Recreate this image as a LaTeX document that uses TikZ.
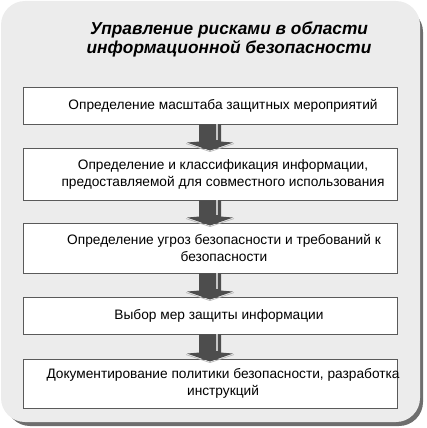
\documentclass[tikz,border=0pt]{standalone}
\usepackage{fontspec}
\setmainfont{Liberation Sans}
\usetikzlibrary{calc,positioning}
\definecolor{panelGray}{HTML}{ECECEC}
\definecolor{shadowGray}{HTML}{6E6E6E}
\definecolor{frameGray}{HTML}{5A5A5A}
\definecolor{arrowGray}{HTML}{4D4D4D}

\tikzset{
  stepbox/.style={draw=frameGray, line width=0.9pt, fill=white, minimum width=374pt, inner sep=0pt},
  steptext/.style={align=center, font=\fontsize{13.7}{17}\selectfont},
  headline/.style={align=center, font=\fontsize{17.3}{19}\selectfont\bfseries\itshape},
}
% block arrow from the bottom of one box into the top of the next
\newcommand\flowarrow[2]{%
  \path (#1.south) coordinate (fa-s) (#2.north) coordinate (fa-e);
  \fill[arrowGray] ($(fa-s)+(-11,0)$) -- ($(fa-s)+(11,0)$) -- ($(fa-e)+(11,-6)$)
    -- ($(fa-e)+(23,-5)$) -- ($(fa-e)+(0,3)$) -- ($(fa-e)+(-23,-5)$)
    -- ($(fa-e)+(-11,-6)$) -- cycle;
  \draw[gray!45, line width=1.2pt] ($(fa-s)+(7,0)$) -- ($(fa-e)+(7,-8)$);
  \draw[gray!55, line width=0.7pt] ($(fa-e)+(-24,-4)$) -- ($(fa-e)+(0,4)$) -- ($(fa-e)+(24,-4)$);
}

\begin{document}
\begin{tikzpicture}[x=1pt, y=-1pt]
  \useasboundingbox (0,0) rectangle (427,428);
  % panel with shadow
  \fill[shadowGray, rounded corners=24pt] (6,8) rectangle (423,426);
  \fill[panelGray, rounded corners=24pt] (1,1) rectangle (420,422);

  \node[headline] (title) at (229,39) {Управление рисками в области\\информационной безопасности};

  \node[stepbox, minimum height=37pt] (b1) at (210,105.5) {};
  \node[stepbox, minimum height=52pt] (b2) at (210,174) {};
  \node[stepbox, minimum height=50pt] (b3) at (210,248) {};
  \node[stepbox, minimum height=37pt] (b4) at (210,315.5) {};
  \node[stepbox, minimum height=49pt] (b5) at (210,383.5) {};

  \node[steptext] (t1) at ($(b1.center)+(13,0)$) {Определение масштаба защитных мероприятий};
  \node[steptext] (t2) at ($(b2.center)+(13,0)$) {Определение и классификация информации,\\предоставляемой для совместного использования};
  \node[steptext] (t3) at ($(b3.center)+(14,0)$) {Определение угроз безопасности и требований к\\безопасности};
  \node[steptext] (t4) at ($(b4.center)+(9,0)$) {Выбор мер защиты информации};
  \node[steptext] (t5) at ($(b5.center)+(13,0)$) {Документирование политики безопасности, разработка\\инструкций};

  \flowarrow{b1}{b2}
  \flowarrow{b2}{b3}
  \flowarrow{b3}{b4}
  \flowarrow{b4}{b5}
\end{tikzpicture}
\end{document}
